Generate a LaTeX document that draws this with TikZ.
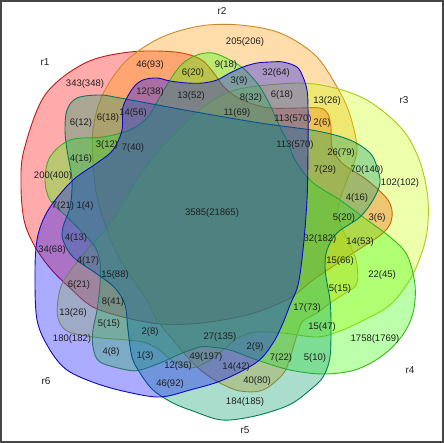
\documentclass[tikz,border=0pt]{standalone}
\usepackage{fontspec}
\setmainfont{Liberation Sans}
\definecolor{c1}{RGB}{255,0,0}\definecolor{e1}{RGB}{204,20,20}
\definecolor{c2}{RGB}{255,153,0}\definecolor{e2}{RGB}{205,135,40}
\definecolor{c3}{RGB}{204,255,0}\definecolor{e3}{RGB}{170,200,30}
\definecolor{c4}{RGB}{51,255,0}\definecolor{e4}{RGB}{60,180,30}
\definecolor{c5}{RGB}{0,153,102}\definecolor{e5}{RGB}{0,125,85}
\definecolor{c6}{RGB}{0,0,255}\definecolor{e6}{RGB}{10,10,200}
\begin{document}
\begin{tikzpicture}[x=1pt,y=-1pt,
  lab/.style={font=\fontsize{9.5}{11}\selectfont, text=black!88, inner sep=0pt},
  setlab/.style={font=\fontsize{10}{12}\selectfont, text=black!88, inner sep=0pt},
  venn/.style={fill opacity=0.33, draw opacity=1, line width=0.9pt}]
\useasboundingbox (0,0) rectangle (444,443);
\fill[white] (0,0) rectangle (444,443);
% r1
\path[venn, fill=c1, draw=e1] plot[smooth cycle, tension=0.55] coordinates {
(24,150) (45,95) (85,63) (130,52) (175,52) (200,59) (213,72) (223,86) (235,96) (250,103) (270,108) (300,108) (320,108) (328,114) (331,128) (332,147) (342,163) (367,180) (388,200) (392,217) (383,233) (347,257) (313,280) (290,298) (257,312) (223,320) (190,324) (160,324) (127,318) (93,307) (70,288) (50,268) (34,245) (24,220) (21,185)};
% r2
\path[venn, fill=c2, draw=e2] plot[smooth cycle, tension=0.55] coordinates {
(93,130) (102,96) (125,62) (160,38) (200,26) (240,25) (280,33) (315,55) (337,87) (350,115) (357,150) (348,177) (340,200) (338,217) (346,237) (356,260) (357,283) (347,292) (330,303) (317,313) (303,321) (297,335) (290,358) (283,374) (263,390) (240,391) (220,383) (203,372) (190,360) (173,340) (157,320) (145,297) (122,263) (107,230) (97,197) (93,163)};
% r3
\path[venn, fill=c3, draw=e3] plot[smooth cycle, tension=0.55] coordinates {
(58,300) (64,280) (87,250) (113,220) (135,183) (157,152) (178,130) (203,107) (227,93) (250,87) (300,83) (335,88) (365,99) (390,117) (408,137) (421,165) (428,200) (426,238) (412,276) (390,305) (360,322) (340,331) (317,337) (283,333) (257,332) (240,337) (223,350) (207,362) (192,368) (180,365) (170,359) (157,348) (143,342) (127,340) (93,337) (67,331) (58,318)};
% r4
\path[venn, fill=c4, draw=e4] plot[smooth cycle, tension=0.55] coordinates {
(250,75) (243,68) (230,60) (213,53) (197,55) (182,64) (170,80) (157,102) (147,118) (130,130) (103,137) (70,140) (50,157) (45,180) (50,200) (67,217) (83,233) (95,247) (100,262) (100,285) (97,310) (93,330) (93,347) (100,362) (127,370) (140,370) (160,363) (180,354) (200,347) (210,347) (230,350) (257,360) (290,370) (323,374) (355,370) (382,356) (402,336) (413,313) (415,285) (407,255) (390,237) (363,217) (340,200) (312,182) (295,160) (288,143) (280,127) (270,105) (260,87)};
% r5
\path[venn, fill=c5, draw=e5] plot[smooth cycle, tension=0.55] coordinates {
(67,110) (77,98) (100,95) (120,98) (190,111) (260,123) (317,131) (350,140) (370,153) (377,167) (380,183) (373,200) (360,217) (337,233) (327,250) (325,267) (327,283) (330,300) (331,323) (330,357) (323,377) (310,390) (289,405) (255,416) (222,420) (193,411) (173,403) (153,390) (140,373) (132,357) (128,330) (125,305) (115,288) (97,274) (73,257) (63,240) (63,227) (70,207) (72,180) (67,150) (65,130)};
% r6
\path[venn, fill=c6, draw=e6] plot[smooth cycle, tension=0.55] coordinates {
(122,130) (123,107) (133,88) (143,80) (157,78) (170,81) (187,83) (203,83) (217,80) (230,73) (243,67) (257,63) (270,62) (283,62) (297,67) (303,77) (307,90) (308,107) (308,150) (307,200) (303,250) (298,285) (290,305) (283,323) (273,343) (257,362) (223,380) (190,390) (160,397) (127,392) (95,383) (67,370) (50,350) (37,320) (35,270) (37,240) (43,220) (53,203) (73,180) (97,163) (113,150)};
% set labels
\node[setlab] (s1) at (45,62) {r1};
\node[setlab] (s2) at (222,11) {r2};
\node[setlab] (s3) at (404,100) {r3};
\node[setlab] (s4) at (410,370) {r4};
\node[setlab] (s5) at (245,430) {r5};
\node[setlab] (s6) at (46,381) {r6};
% region labels
\node[lab] (l1) at (85,84) {343(348)};
\node[lab] (l2) at (150,65) {46(93)};
\node[lab] (l3) at (193,73) {6(20)};
\node[lab] (l4) at (226,65) {9(18)};
\node[lab] (l5) at (245,42) {205(206)};
\node[lab] (l6) at (150,92) {12(38)};
\node[lab] (l7) at (191,96) {13(52)};
\node[lab] (l8) at (239,81) {3(9)};
\node[lab] (l9) at (276,73) {32(64)};
\node[lab] (l10) at (251,98) {8(32)};
\node[lab] (l11) at (282,95) {6(18)};
\node[lab] (l12) at (327,101) {13(26)};
\node[lab] (l13) at (133,113) {14(56)};
\node[lab] (l14) at (81,123) {6(12)};
\node[lab] (l15) at (108,118) {6(18)};
\node[lab] (l16) at (237,113) {11(69)};
\node[lab] (l17) at (293,119) {113(570)};
\node[lab] (l18) at (322,123) {2(6)};
\node[lab] (l19) at (295,145) {113(570)};
\node[lab] (l20) at (107,145) {3(12)};
\node[lab] (l21) at (133,148) {7(40)};
\node[lab] (l22) at (341,153) {26(79)};
\node[lab] (l23) at (325,170) {7(29)};
\node[lab] (l24) at (367,170) {70(140)};
\node[lab] (l25) at (400,183) {102(102)};
\node[lab] (l26) at (81,159) {4(16)};
\node[lab] (l27) at (53,176) {200(400)};
\node[lab] (l28) at (357,198) {4(16)};
\node[lab] (l29) at (212,213) {3585(21865)};
\node[lab] (l30) at (63,206) {7(21)};
\node[lab] (l31) at (85,206) {1(4)};
\node[lab] (l32) at (344,218) {5(20)};
\node[lab] (l33) at (377,218) {3(6)};
\node[lab] (l34) at (76,238) {4(13)};
\node[lab] (l35) at (52,250) {34(68)};
\node[lab] (l36) at (320,239) {32(182)};
\node[lab] (l37) at (360,242) {14(53)};
\node[lab] (l38) at (88,261) {4(17)};
\node[lab] (l39) at (115,275) {15(88)};
\node[lab] (l40) at (340,261) {15(66)};
\node[lab] (l41) at (382,275) {22(45)};
\node[lab] (l42) at (79,285) {6(21)};
\node[lab] (l43) at (340,289) {5(15)};
\node[lab] (l44) at (113,302) {8(41)};
\node[lab] (l45) at (73,313) {13(26)};
\node[lab] (l46) at (307,308) {17(73)};
\node[lab] (l47) at (109,324) {5(15)};
\node[lab] (l48) at (322,327) {15(47)};
\node[lab] (l49) at (150,332) {2(8)};
\node[lab] (l50) at (375,339) {1758(1769)};
\node[lab] (l51) at (72,339) {180(182)};
\node[lab] (l52) at (220,337) {27(135)};
\node[lab] (l53) at (255,347) {2(9)};
\node[lab] (l54) at (111,352) {4(8)};
\node[lab] (l55) at (145,356) {1(3)};
\node[lab] (l56) at (206,357) {49(197)};
\node[lab] (l57) at (281,358) {7(22)};
\node[lab] (l58) at (315,358) {5(10)};
\node[lab] (l59) at (178,366) {12(36)};
\node[lab] (l60) at (236,367) {14(42)};
\node[lab] (l61) at (257,381) {40(80)};
\node[lab] (l62) at (170,384) {46(92)};
\node[lab] (l63) at (245,402) {184(185)};
% frame
\draw[line width=2pt, black!72] (1,1) rectangle (443,442);
\end{tikzpicture}
\end{document}
